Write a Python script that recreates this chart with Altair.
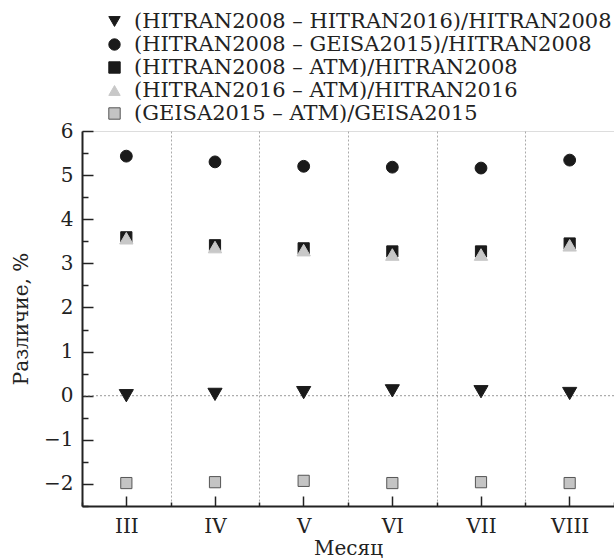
import altair as alt
import pandas as pd

months = ["III", "IV", "V", "VI", "VII", "VIII"]
series = [
    "(HITRAN2008 – HITRAN2016)/HITRAN2008",
    "(HITRAN2008 – GEISA2015)/HITRAN2008",
    "(HITRAN2008 – ATM)/HITRAN2008",
    "(HITRAN2016 – ATM)/HITRAN2016",
    "(GEISA2015 – ATM)/GEISA2015",
]
h08_h16 = [0.00, 0.03, 0.07, 0.11, 0.09, 0.05]
h08_g15 = [5.43, 5.30, 5.20, 5.18, 5.16, 5.34]
h08_atm = [3.59, 3.41, 3.34, 3.27, 3.27, 3.45]
h16_atm = [3.57, 3.37, 3.30, 3.20, 3.20, 3.41]
g15_atm = [-1.98, -1.96, -1.93, -1.98, -1.96, -1.98]
marker_sizes = [200, 140, 125, 180, 125]
zero_line = [0]
major_ticks = [-2, -1, 0, 1, 2, 3, 4, 5, 6]
minor_ticks = [-2.5, -1.5, -0.5, 0.5, 1.5, 2.5, 3.5, 4.5, 5.5]

rows = []
for name, vals, sz in zip(series, [h08_h16, h08_g15, h08_atm, h16_atm, g15_atm], marker_sizes):
    for m, v in zip(months, vals):
        rows.append({"month": m, "series": name, "value": v, "sz": sz})
df = pd.DataFrame(rows)
zdf = pd.DataFrame({"z": zero_line})

FONT = "DejaVu Serif"
INK = "#222222"
W, H = 532, 375

xscale = alt.Scale(type="band", domain=months, paddingInner=0, paddingOuter=0)
yscale = alt.Scale(domain=[-2.5, 6], nice=False, zero=False)

legend = alt.Legend(
    orient="none", legendX=22, legendY=-120, title=None,
    labelFont=FONT, labelFontSize=21, labelColor=INK, labelLimit=0,
    symbolSize=130, rowPadding=1, symbolStrokeWidth=1, labelOffset=9,
)
shape_s = alt.Scale(domain=series, range=["triangle-down", "circle", "square", "triangle-up", "square"])
fill_s = alt.Scale(domain=series, range=["#1a1a1a", "#1a1a1a", "#1a1a1a", "#c8c8c8", "#c4c4c4"])
stroke_s = alt.Scale(domain=series, range=["#1a1a1a", "#1a1a1a", "#1a1a1a", "#c8c8c8", "#555555"])

points = alt.Chart(df).mark_point(filled=True, opacity=1, strokeWidth=1).encode(
    x=alt.X("month:N", scale=xscale, sort=months, axis=alt.Axis(
        orient="bottom", title="Месяц", tickBand="extent", grid=True, gridDash=[2, 2],
        gridColor="#aaaaaa", gridWidth=1, ticks=False,
        labelAngle=0, labelFont=FONT, labelFontSize=20, labelColor=INK, labelPadding=10,
        titleFont=FONT, titleFontSize=20, titleFontWeight="normal", titleColor=INK,
        titlePadding=2, domainColor=INK, domainWidth=2)),
    y=alt.Y("value:Q", scale=yscale, axis=alt.Axis(
        orient="left", values=major_ticks, ticks=False, grid=False, title="Различие, %",
        labelFont=FONT, labelFontSize=20, labelColor=INK, labelPadding=9,
        titleFont=FONT, titleFontSize=20, titleFontWeight="normal", titleColor=INK,
        titlePadding=12, domainColor=INK, domainWidth=2)),
    shape=alt.Shape("series:N", scale=shape_s, legend=legend),
    fill=alt.Fill("series:N", scale=fill_s, legend=legend),
    stroke=alt.Stroke("series:N", scale=stroke_s, legend=legend),
    size=alt.Size("sz:Q", scale=None, legend=None),
)

zero = alt.Chart(zdf).mark_rule(strokeDash=[2, 2], color="#999999", strokeWidth=1).encode(
    y=alt.Y("z:Q", scale=yscale, axis=None)
)

ymajor = alt.Chart(df).mark_point(opacity=0).encode(
    y=alt.Y("value:Q", scale=yscale, axis=alt.Axis(
        orient="right", offset=-W, values=major_ticks, labels=False, domain=False,
        grid=False, ticks=True, tickSize=11, tickColor=INK, tickWidth=1.5, title=None))
)
yminor = alt.Chart(df).mark_point(opacity=0).encode(
    y=alt.Y("value:Q", scale=yscale, axis=alt.Axis(
        orient="right", offset=-W, values=minor_ticks, labels=False, domain=False,
        grid=False, ticks=True, tickSize=6, tickColor=INK, tickWidth=1.5, title=None))
)
xinner = alt.Chart(df).mark_point(opacity=0).encode(
    x=alt.X("month:N", scale=xscale, sort=months, axis=alt.Axis(
        orient="top", offset=-H, labels=False, domain=False, grid=False,
        ticks=True, tickSize=10, tickColor=INK, tickWidth=1.5, title=None))
)
xedges = alt.Chart(df).mark_point(opacity=0).encode(
    x=alt.X("month:N", scale=xscale, sort=months, axis=alt.Axis(
        orient="top", offset=-H, labels=False, domain=False, grid=False, tickBand="extent",
        ticks=True, tickSize=4, tickColor=INK, tickWidth=1.5, title=None))
)

chart = alt.layer(zero, xinner, xedges, ymajor, yminor, points).resolve_axis(
    x="independent", y="independent"
).properties(
    width=W, height=H, autosize="none",
    padding={"left": 82, "top": 131, "right": 0, "bottom": 54},
).configure_view(stroke=None).configure(background="white")

chart.save("out.html", embed_options={"renderer": "svg", "actions": False})
